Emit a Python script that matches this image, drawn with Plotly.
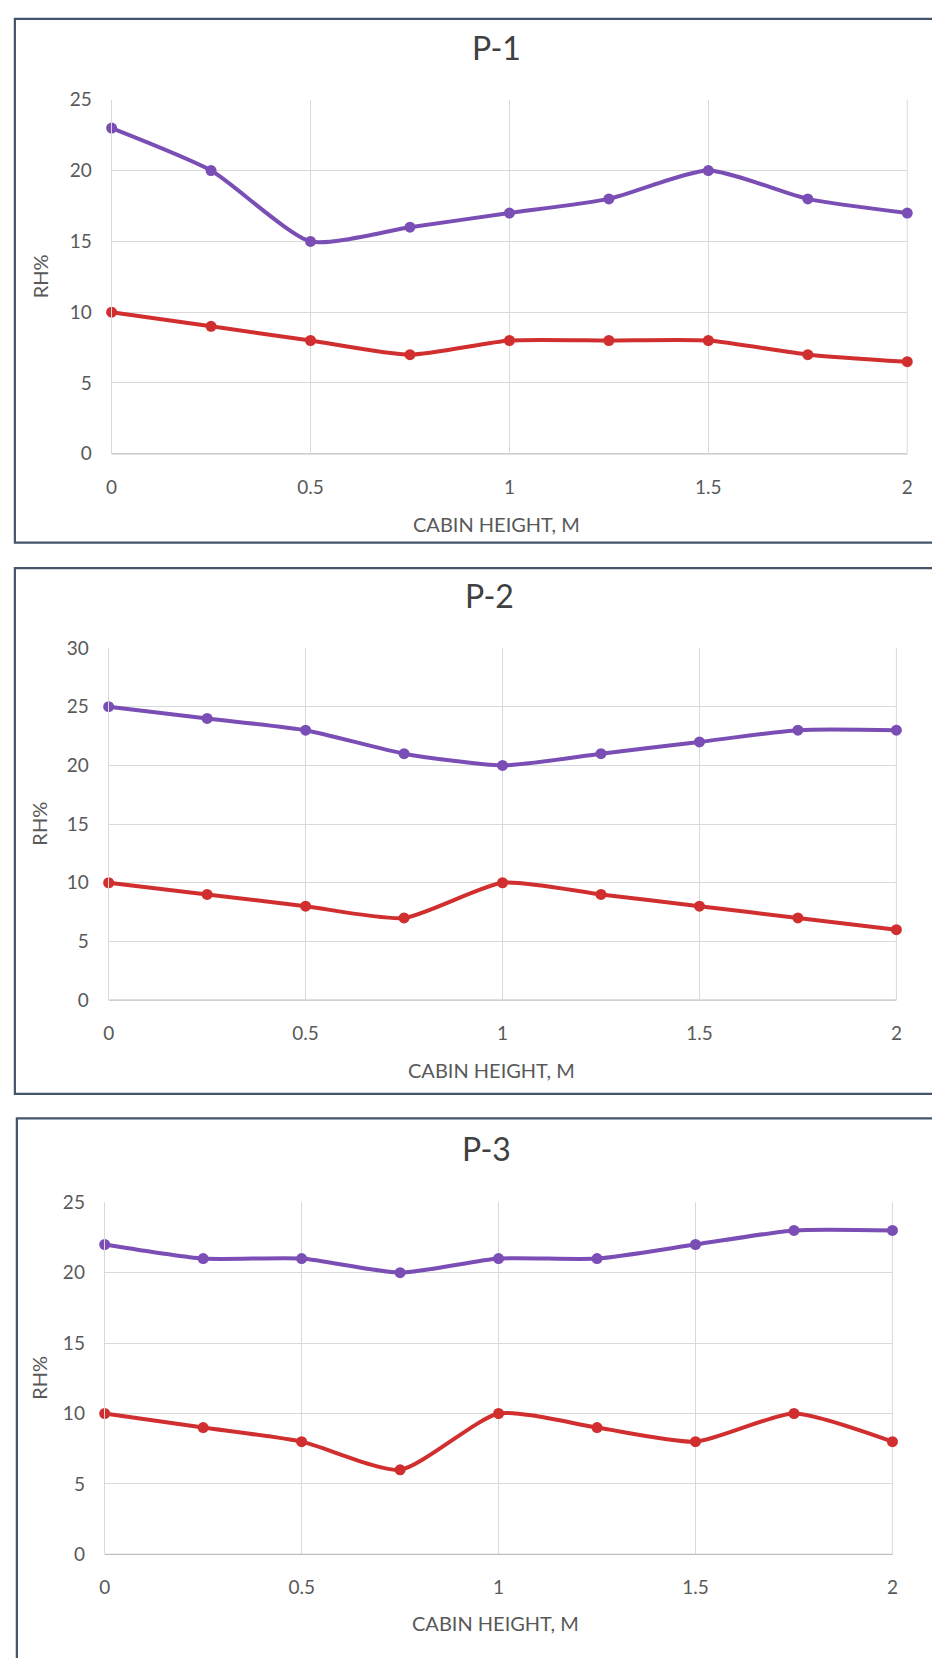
import plotly.graph_objects as go

heights = [0, 0.25, 0.5, 0.75, 1, 1.25, 1.5, 1.75, 2]
x_ticks = [0, 0.5, 1, 1.5, 2]
x_tick_labels = ["0", "0.5", "1", "1.5", "2"]

panel_titles = ["P-1", "P-2", "P-3"]
y_max = [25, 30, 25]

p1_upper = [23, 20, 15, 16, 17, 18, 20, 18, 17]
p1_lower = [10, 9, 8, 7, 8, 8, 8, 7, 6.5]
p2_upper = [25, 24, 23, 21, 20, 21, 22, 23, 23]
p2_lower = [10, 9, 8, 7, 10, 9, 8, 7, 6]
p3_upper = [22, 21, 21, 20, 21, 21, 22, 23, 23]
p3_lower = [10, 9, 8, 6, 10, 9, 8, 10, 8]

uppers = [p1_upper, p2_upper, p3_upper]
lowers = [p1_lower, p2_lower, p3_lower]

W, H = 932, 1658
PURPLE = "#7A4EB4"
RED = "#D12F2F"
FONT = "Lato"
TXT = "#595959"

# pixel layout of each panel (left, right, top, bottom of plot area)
plot_px = [(107, 913, 89, 448), (104, 902, 645, 1002), (100, 898, 1207, 1564)]
box_px = [(9, 7, 538), (9, 564, 1097), (11, 1122, 1700)]
title_px = [(497, 36), (490, 592), (487, 1152)]
xtitle_px = [(497, 519), (492, 1073), (496, 1634)]

def px(x):
    return x / W

def py(y):
    return 1 - y / H

fig = go.Figure()
layout = dict(
    width=W, height=H,
    margin=dict(l=0, r=0, t=0, b=0),
    paper_bgcolor="white", plot_bgcolor="white",
    showlegend=False,
    font=dict(family=FONT, color=TXT),
)
shapes = []
annotations = []

for i in range(3):
    xa = "x" if i == 0 else f"x{i+1}"
    ya = "y" if i == 0 else f"y{i+1}"
    l, r, t, b = plot_px[i]
    for vals, col in ((uppers[i], PURPLE), (lowers[i], RED)):
        fig.add_trace(go.Scatter(
            x=heights, y=vals, mode="lines+markers",
            line=dict(color=col, width=4, shape="spline", smoothing=0.6),
            marker=dict(color=col, size=11),
            xaxis=xa, yaxis=ya, cliponaxis=False,
        ))
    xkey = "xaxis" if i == 0 else f"xaxis{i+1}"
    ykey = "yaxis" if i == 0 else f"yaxis{i+1}"
    layout[xkey] = dict(
        domain=[px(l), px(r)], anchor=ya, range=[0, 2],
        tickvals=x_ticks, ticktext=x_tick_labels,
        showgrid=True, gridcolor="#D9D9D9", gridwidth=1,
        zeroline=False, showline=False,
        ticks="outside", ticklen=16, tickcolor="rgba(0,0,0,0)",
        tickfont=dict(family=FONT, size=19, color=TXT),
    )
    layout[ykey] = dict(
        domain=[py(b), py(t)], anchor=xa, range=[0, y_max[i]],
        dtick=5,
        showgrid=True, gridcolor="#D9D9D9", gridwidth=1,
        zeroline=False, showline=True, linecolor="#D9D9D9", mirror=False,
        ticks="outside", ticklen=15, tickcolor="rgba(0,0,0,0)",
        tickfont=dict(family=FONT, size=19, color=TXT),
    )
    shapes.append(dict(type="line", xref=f"{xa} domain", yref=f"{ya} domain",
                       x0=1, x1=1, y0=0, y1=1, line=dict(color="#D9D9D9", width=1), layer="below"))
    shapes.append(dict(type="line", xref=f"{xa} domain", yref=f"{ya} domain",
                       x0=0, x1=1, y0=0, y1=0, line=dict(color="#BFBFBF", width=1.2), layer="below"))
    bl, bt, bb = box_px[i]
    shapes.append(dict(type="rect", xref="paper", yref="paper",
                       x0=px(bl), x1=px(W + 20), y0=py(bb), y1=py(bt),
                       line=dict(color="#44546A", width=2.2)))
    tx, ty = title_px[i]
    annotations.append(dict(text=panel_titles[i], xref="paper", yref="paper",
                            x=px(tx), y=py(ty), xanchor="center", yanchor="middle",
                            showarrow=False, font=dict(family=FONT, size=32, color="#404040")))
    ax, ay = xtitle_px[i]
    annotations.append(dict(text="CABIN HEIGHT, M", xref="paper", yref="paper",
                            x=px(ax), y=py(ay), xanchor="center", yanchor="middle",
                            showarrow=False, font=dict(family=FONT, size=20, color=TXT)))
    annotations.append(dict(text="RH%", xref="paper", yref="paper",
                            x=px(34), y=py((t + b) / 2), xanchor="center", yanchor="middle",
                            textangle=-90, showarrow=False,
                            font=dict(family=FONT, size=20, color=TXT)))

layout["shapes"] = shapes
layout["annotations"] = annotations
fig.update_layout(**layout)
fig.write_html(
    "out.html",
    config={"displayModeBar": False},
    post_script="document.body.style.margin='0';document.body.style.overflow='hidden';",
)
